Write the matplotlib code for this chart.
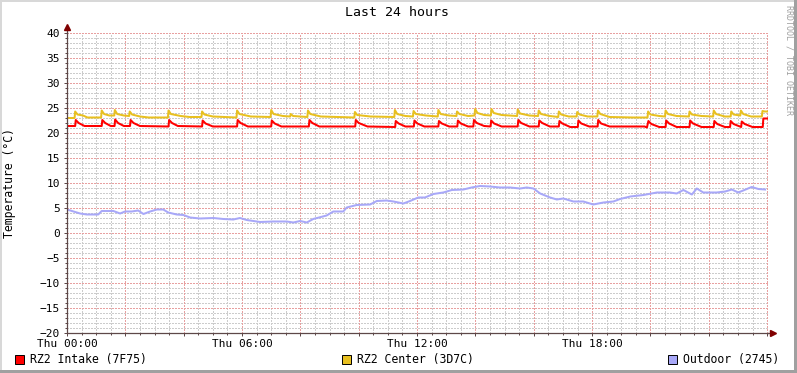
import matplotlib
matplotlib.use('Agg')
from matplotlib import pyplot as plt
from matplotlib.patches import Rectangle
from matplotlib.ticker import MultipleLocator, FuncFormatter

# time in hours since Thu 00:00, temperature in deg C
intake_t = [0.00, 0.28, 0.30, 0.40, 0.60, 1.19, 1.21, 1.31, 1.50, 1.63, 1.65, 1.75, 1.95,
            2.16, 2.18, 2.28, 2.50, 3.48, 3.50, 3.60, 3.80, 4.63, 4.65, 4.75, 5.00,
            5.83, 5.85, 5.95, 6.20, 7.00, 7.02, 7.12, 7.35, 8.29, 8.31, 8.41, 8.65,
            9.88, 9.90, 10.00, 10.30, 11.25, 11.27, 11.37, 11.60, 11.89, 11.91, 12.01, 12.25,
            12.73, 12.75, 12.85, 13.10, 13.38, 13.40, 13.50, 13.75, 13.93, 13.95, 14.05, 14.30,
            14.52, 14.54, 14.64, 14.90, 15.45, 15.47, 15.57, 15.85, 16.17, 16.19, 16.29, 16.55,
            16.86, 16.88, 16.98, 17.25, 17.51, 17.53, 17.63, 17.90, 18.19, 18.21, 18.31, 18.60,
            19.80, 19.88, 19.93, 20.03, 20.30, 20.52, 20.54, 20.64, 20.90, 21.34, 21.36, 21.46, 21.75,
            22.17, 22.19, 22.29, 22.55, 22.73, 22.75, 22.85, 23.11, 23.13, 23.23, 23.50,
            23.85, 23.87, 24.00]
intake_v = [21.4, 21.4, 22.6, 22.0, 21.4, 21.4, 22.6, 22.0, 21.4, 21.4, 22.7, 22.0, 21.4,
            21.4, 22.6, 22.0, 21.4, 21.3, 22.6, 22.0, 21.4, 21.3, 22.5, 21.9, 21.3,
            21.3, 22.6, 22.0, 21.3, 21.3, 22.5, 21.9, 21.3, 21.3, 22.6, 22.0, 21.3,
            21.3, 22.6, 22.0, 21.3, 21.2, 22.4, 21.9, 21.3, 21.3, 22.5, 21.9, 21.3,
            21.3, 22.4, 21.9, 21.3, 21.3, 22.5, 21.9, 21.3, 21.3, 22.6, 22.0, 21.4,
            21.3, 22.5, 21.9, 21.3, 21.3, 22.6, 22.0, 21.3, 21.3, 22.5, 22.0, 21.3,
            21.3, 22.4, 21.9, 21.2, 21.2, 22.5, 21.9, 21.3, 21.3, 22.6, 21.9, 21.3,
            21.3, 21.1, 22.4, 21.8, 21.2, 21.2, 22.5, 21.9, 21.2, 21.2, 22.5, 21.9, 21.2,
            21.2, 22.4, 21.8, 21.2, 21.2, 22.4, 21.8, 21.2, 22.3, 21.8, 21.2,
            21.2, 22.9, 22.9]

center_t = [0.00, 0.26, 0.28, 0.36, 0.55, 0.70, 1.17, 1.19, 1.27, 1.45, 1.62, 1.64, 1.72, 1.95,
            2.13, 2.15, 2.23, 2.50, 2.80, 3.46, 3.48, 3.56, 3.90, 4.20, 4.61, 4.63, 4.71, 5.00,
            5.40, 5.81, 5.83, 5.91, 6.30, 6.98, 7.00, 7.08, 7.40, 7.65, 7.67, 7.75, 8.24, 8.26,
            8.34, 8.70, 9.85, 9.87, 9.95, 10.40, 11.22, 11.24, 11.32, 11.60, 11.86, 11.88, 11.96,
            12.30, 12.71, 12.73, 12.81, 13.10, 13.35, 13.37, 13.45, 13.75, 13.97, 13.99, 14.07,
            14.30, 14.53, 14.55, 14.63, 14.90, 15.43, 15.45, 15.53, 15.85, 16.15, 16.17, 16.25,
            16.55, 16.84, 16.86, 16.94, 17.20, 17.47, 17.49, 17.57, 17.85, 18.18, 18.20, 18.28,
            18.60, 19.40, 19.90, 19.92, 20.00, 20.30, 20.50, 20.52, 20.60, 20.90, 21.32, 21.34,
            21.42, 21.75, 22.15, 22.17, 22.25, 22.55, 22.75, 22.77, 22.85, 23.08, 23.10, 23.18,
            23.45, 23.82, 23.84, 23.92, 24.00]
center_v = [23.0, 23.0, 24.3, 23.7, 23.5, 23.1, 23.1, 24.5, 23.8, 23.5, 23.5, 24.6, 23.8, 23.5,
            23.4, 24.3, 23.7, 23.3, 23.1, 23.1, 24.5, 23.8, 23.4, 23.2, 23.2, 24.3, 23.7, 23.3,
            23.2, 23.1, 24.5, 23.8, 23.3, 23.2, 24.6, 23.8, 23.4, 23.3, 23.8, 23.4, 23.2, 24.5,
            23.8, 23.3, 23.1, 24.2, 23.6, 23.3, 23.2, 24.6, 23.8, 23.4, 23.3, 24.4, 23.8,
            23.5, 23.3, 24.6, 23.8, 23.5, 23.4, 24.3, 23.8, 23.4, 23.5, 24.8, 24.0,
            23.6, 23.5, 24.8, 24.0, 23.6, 23.4, 24.7, 23.9, 23.5, 23.4, 24.5, 23.8,
            23.4, 23.2, 24.3, 23.7, 23.3, 23.3, 24.2, 23.7, 23.3, 23.3, 24.5, 23.8,
            23.2, 23.1, 23.1, 24.3, 23.7, 23.4, 23.3, 24.5, 23.8, 23.4, 23.3, 24.3,
            23.7, 23.4, 23.3, 24.5, 23.8, 23.3, 23.3, 24.3, 23.7, 23.5, 24.5, 23.8,
            23.3, 23.3, 24.4, 24.3, 24.3]

outdoor_t = [0.00, 0.45, 0.68, 1.07, 1.19, 1.59, 1.82, 1.99, 2.22, 2.44, 2.62, 2.85, 3.08, 3.30,
             3.47, 3.76, 3.99, 4.22, 4.56, 5.02, 5.36, 5.70, 5.93, 6.16, 6.62, 7.07, 7.53, 7.76,
             7.99, 8.22, 8.44, 8.90, 9.13, 9.47, 9.59, 9.93, 10.39, 10.62, 10.96, 11.19, 11.53,
             11.76, 12.04, 12.27, 12.56, 12.90, 13.19, 13.59, 13.87, 14.16, 14.50, 14.84, 15.19,
             15.53, 15.76, 15.99, 16.22, 16.56, 16.79, 17.01, 17.36, 17.70, 18.04, 18.39, 18.73,
             18.96, 19.31, 19.76, 20.22, 20.67, 20.90, 21.13, 21.42, 21.59, 21.81, 22.27, 22.56,
             22.79, 23.01, 23.18, 23.47, 23.70, 23.93]
outdoor_v = [4.7, 3.9, 3.7, 3.7, 4.4, 4.4, 3.9, 4.3, 4.3, 4.5, 3.8, 4.3, 4.7, 4.7,
             4.1, 3.7, 3.6, 3.1, 2.9, 3.0, 2.8, 2.7, 3.0, 2.6, 2.2, 2.3, 2.3, 2.1,
             2.4, 2.1, 2.8, 3.5, 4.3, 4.3, 5.1, 5.6, 5.7, 6.4, 6.5, 6.3, 5.9,
             6.4, 7.1, 7.1, 7.8, 8.1, 8.6, 8.7, 9.1, 9.4, 9.3, 9.1, 9.1,
             8.9, 9.1, 8.9, 7.9, 7.1, 6.7, 6.9, 6.3, 6.3, 5.7, 6.1, 6.3,
             6.8, 7.3, 7.6, 8.1, 8.1, 7.9, 8.6, 7.7, 8.9, 8.1, 8.1, 8.3,
             8.7, 8.1, 8.5, 9.2, 8.8, 8.7]

x_ticks = ['Thu 00:00', 'Thu 06:00', 'Thu 12:00', 'Thu 18:00']
legend = ['RZ2 Intake (7F75)', 'RZ2 Center (3D7C)', 'Outdoor (2745)']
colors = ['#ff0000', '#e8c020', '#a8a8f8']

W, H = 797, 373
plt.rcParams['font.family'] = ['DejaVu Sans Mono', 'DejaVu Sans']
fig = plt.figure(figsize=(W / 100, H / 100), dpi=100, facecolor='white')
ax = fig.add_axes([67 / W, 40 / H, 701 / W, 300 / H])
ax.set_facecolor('white')

axis_col = '#5e4848'
arrow_col = '#800000'

# grid: minor every 30 min / 1 deg, major every 2 h / 5 deg
for h in range(0, 49):
    t = h * 0.5
    major = t % 2 == 0
    ax.axvline(t, color='#e8a0a0' if major else '#cccccc', lw=0.72, ls=(0, (2, 2)),
               antialiased=False, zorder=1 if major else 0.5)
for v in range(-20, 41):
    major = v % 5 == 0
    ax.axhline(v, color='#e8a0a0' if major else '#cccccc', lw=0.72, ls=(0, (2, 2)),
               antialiased=False, zorder=1 if major else 0.5)

ax.plot(outdoor_t, outdoor_v, color=colors[2], lw=1.45, zorder=3)
ax.plot(center_t, center_v, color=colors[1], lw=1.45, zorder=3)
ax.plot(intake_t, intake_v, color=colors[0], lw=1.45, zorder=4)

ax.set_xlim(0, 24.03)
ax.set_ylim(-20, 40)

ax.xaxis.set_major_locator(MultipleLocator(2))
ax.xaxis.set_minor_locator(MultipleLocator(0.5))
ax.xaxis.set_major_formatter(FuncFormatter(
    lambda v, p: x_ticks[int(round(v)) // 6] if round(v) % 6 == 0 and 0 <= round(v) < 24 else ''))
ax.yaxis.set_major_locator(MultipleLocator(5))
ax.yaxis.set_minor_locator(MultipleLocator(1))
ax.tick_params(which='major', length=2.5, width=0.72, color=axis_col, labelsize=8, pad=1.5)
ax.tick_params(which='minor', length=1.5, width=0.72, color=axis_col)
ax.tick_params(axis='y', which='major', pad=2.5)

for s in ['top', 'right']:
    ax.spines[s].set_visible(False)
for s in ['left', 'bottom']:
    ax.spines[s].set_color(axis_col)
    ax.spines[s].set_linewidth(0.9)
    ax.spines[s].set_zorder(5)

# axis arrows
ax.plot([0, 0], [1, 1.02], transform=ax.transAxes, color=axis_col, lw=0.9, clip_on=False)
ax.plot([0], [1.02], marker='^', ms=4, color=arrow_col, transform=ax.transAxes, clip_on=False)
ax.plot([1, 1.007], [0, 0], transform=ax.transAxes, color=axis_col, lw=0.9, clip_on=False)
ax.plot([1.007], [0], marker='>', ms=4, color=arrow_col, transform=ax.transAxes, clip_on=False)

fig.text(10 / W, 1 - 183 / H, 'Temperature (°C)', rotation=90, ha='center', va='center',
         fontsize=8.3)
fig.text(397 / W, 1 - 13 / H, 'Last 24 hours', ha='center', va='center', fontsize=9.5)
fig.text(789 / W, 1 - 5 / H, 'RRDTOOL / TOBI OETIKER', rotation=270, ha='center', va='top',
         fontsize=6, color='#a0a0a0')

# legend
sw_x = [15, 342, 668]
tx_x = [30, 357, 683]
for i in range(3):
    fig.add_artist(Rectangle((sw_x[i] / W, (H - 364) / H), 9 / W, 9 / H, transform=fig.transFigure,
                             facecolor=colors[i], edgecolor='black', lw=0.7))
    fig.text(tx_x[i] / W, (H - 359) / H, legend[i], ha='left', va='center', fontsize=8.3)

# border
fig.add_artist(Rectangle((0, 0), 2 / W, 1, transform=fig.transFigure, color='#d8d8d8', lw=0))
fig.add_artist(Rectangle((0, 1 - 2 / H), 1, 2 / H, transform=fig.transFigure, color='#d8d8d8', lw=0))
fig.add_artist(Rectangle((1 - 3 / W, 0), 3 / W, 1, transform=fig.transFigure, color='#a0a0a0', lw=0))
fig.add_artist(Rectangle((0, 0), 1, 3 / H, transform=fig.transFigure, color='#a0a0a0', lw=0))

fig.savefig('out.png', dpi=100, facecolor='white')
